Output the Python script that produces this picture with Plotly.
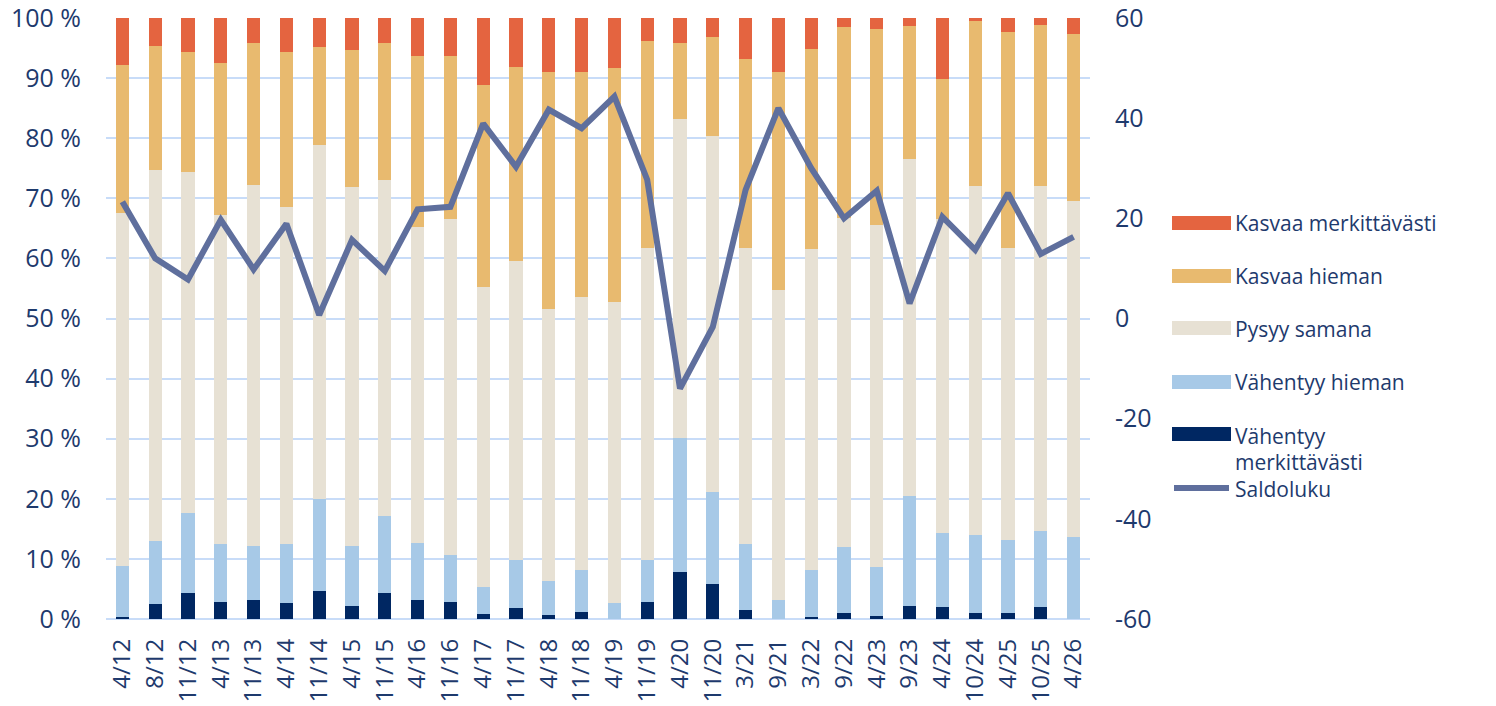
import plotly.graph_objects as go

categories = ["4/12", "8/12", "11/12", "4/13", "11/13", "4/14", "11/14", "4/15", "11/15", "4/16",
              "11/16", "4/17", "11/17", "4/18", "11/18", "4/19", "11/19", "4/20", "11/20", "3/21",
              "9/21", "3/22", "9/22", "4/23", "9/23", "4/24", "10/24", "4/25", "10/25", "4/26"]

vahentyy_merkittavasti = [0.3, 2.5, 4.4, 2.9, 3.2, 2.7, 4.7, 2.2, 4.4, 3.2,
                          2.9, 0.9, 1.9, 0.7, 1.2, 0.0, 2.9, 7.9, 5.9, 1.5,
                          0.0, 0.3, 1.0, 0.5, 2.2, 2.0, 1.0, 1.0, 2.0, 0.0]
vahentyy_hieman = [8.6, 10.4, 13.3, 9.5, 9.0, 9.7, 15.3, 10.0, 12.8, 9.5,
                   7.8, 4.5, 8.0, 5.7, 7.0, 2.7, 7.0, 22.3, 15.3, 10.9,
                   3.2, 7.9, 11.0, 8.2, 18.2, 12.3, 12.9, 12.2, 12.7, 13.7]
pysyy_samana = [58.6, 61.8, 56.7, 54.8, 60.0, 56.1, 58.8, 59.6, 55.8, 52.5,
                55.8, 49.9, 49.7, 45.1, 45.3, 50.0, 51.9, 53.0, 59.1, 49.4,
                51.5, 53.3, 54.7, 56.9, 56.1, 52.2, 58.1, 48.6, 57.3, 55.8]
kasvaa_hieman = [24.7, 20.7, 20.0, 25.3, 23.7, 25.8, 16.4, 22.9, 22.9, 28.5,
                 27.2, 33.6, 32.3, 39.5, 37.5, 39.0, 34.4, 12.7, 16.6, 31.4,
                 36.3, 33.4, 31.8, 32.6, 22.2, 23.4, 27.5, 35.9, 26.9, 27.9]
kasvaa_merkittavasti = [7.8, 4.6, 5.6, 7.5, 4.1, 5.7, 4.8, 5.3, 4.1, 6.3,
                        6.3, 11.1, 8.1, 9.0, 9.0, 8.3, 3.8, 4.1, 3.1, 6.8,
                        9.0, 5.1, 1.5, 1.8, 1.3, 10.1, 0.5, 2.3, 1.1, 2.6]
saldoluku = [23.3, 12.0, 7.8, 19.7, 9.8, 18.9, 0.7, 15.7, 9.5, 21.8,
             22.3, 38.9, 30.3, 41.7, 38.0, 44.3, 27.7, -14.0, -1.7, 25.7,
             42.0, 30.0, 20.0, 25.5, 3.0, 20.3, 13.7, 25.0, 12.9, 16.3]

right_ticks = [-60, -40, -20, 0, 20, 40, 60]
right_tick_labels = ["-60", "-40", "-20", "0", "20", "40", "60"]

bar_series = [
    ("Vähentyy merkittävästi", vahentyy_merkittavasti, "#002762"),
    ("Vähentyy hieman", vahentyy_hieman, "#A7C9E7"),
    ("Pysyy samana", pysyy_samana, "#E7E1D4"),
    ("Kasvaa hieman", kasvaa_hieman, "#E8BA6F"),
    ("Kasvaa merkittävästi", kasvaa_merkittavasti, "#E46440"),
]
line_color = "#5F6F9D"
text_color = "#1E3A6D"
grid_color = "#C8DCF8"
font_family = "Open Sans"

fig = go.Figure()
for name, vals, col in bar_series:
    fig.add_trace(go.Bar(x=categories, y=vals, name=name, marker=dict(color=col, line=dict(width=0)),
                         showlegend=False))
fig.add_trace(go.Scatter(x=categories, y=saldoluku, name="Saldoluku", mode="lines",
                         line=dict(color=line_color, width=6), yaxis="y2", showlegend=False))

# plot area in page pixels (body margin is removed below)
L, T, W, H = 106, 18, 984, 601

def px(xp):
    return (xp - L) / W

def py(yp):
    return (T + H - yp) / H

# legend: (label lines with their centre y, swatch colour, swatch centre y)
legend_items = [
    ([("Kasvaa merkittävästi", 223)], "#E46440", 223),
    ([("Kasvaa hieman", 276)], "#E8BA6F", 276),
    ([("Pysyy samana", 329)], "#E7E1D4", 328),
    ([("Vähentyy hieman", 382)], "#A7C9E7", 382),
    ([("Vähentyy", 436), ("merkittävästi", 462)], "#002762", 434),
]
LEG_FONT = 21
shapes = []
annotations = []
for lines, col, yc in legend_items:
    shapes.append(dict(type="rect", xref="paper", yref="paper", x0=px(1172), x1=px(1231),
                       y0=py(yc + 7), y1=py(yc - 7), fillcolor=col, line=dict(width=0)))
    for text, ty in lines:
        annotations.append(dict(xref="paper", yref="paper", x=px(1234), y=py(ty), text=text,
                                showarrow=False, xanchor="left", yanchor="middle", align="left",
                                borderpad=0,
                                font=dict(family=font_family, size=LEG_FONT, color=text_color)))
shapes.append(dict(type="line", xref="paper", yref="paper", x0=px(1174), x1=px(1229),
                   y0=py(488), y1=py(488), line=dict(color=line_color, width=6)))
annotations.append(dict(xref="paper", yref="paper", x=px(1234), y=py(489), text="Saldoluku",
                        showarrow=False, xanchor="left", yanchor="middle", borderpad=0,
                        font=dict(family=font_family, size=LEG_FONT, color=text_color)))

fig.update_layout(
    width=1496, height=706,
    margin=dict(l=L, r=1496 - L - W, t=T, b=706 - T - H, autoexpand=False),
    barmode="stack", bargap=0.6,
    plot_bgcolor="white", paper_bgcolor="white",
    font=dict(family=font_family, size=24, color=text_color),
    shapes=shapes, annotations=annotations,
    xaxis=dict(type="category", tickangle=-90, showgrid=False, showline=False, ticks="",
               tickfont=dict(size=24, color=text_color), automargin=False, ticklabelstandoff=14,
               ticklabeloverflow="allow"),
    yaxis=dict(range=[0, 100], dtick=10, ticksuffix=" %", showgrid=True, gridcolor=grid_color,
               gridwidth=2, zeroline=True, zerolinecolor=grid_color, zerolinewidth=2,
               ticks="", tickfont=dict(size=25, color=text_color), ticklabelstandoff=24,
               automargin=False, ticklabeloverflow="allow"),
    yaxis2=dict(range=[-60, 60], tickmode="array", tickvals=right_ticks, ticktext=right_tick_labels,
                overlaying="y", side="right", showgrid=False,
                zeroline=False, ticks="", tickfont=dict(size=25, color=text_color),
                ticklabelstandoff=24, automargin=False, ticklabeloverflow="allow"),
)

fig.write_html("out.html", config={"displayModeBar": False},
               post_script="document.body.style.margin='0px';")
